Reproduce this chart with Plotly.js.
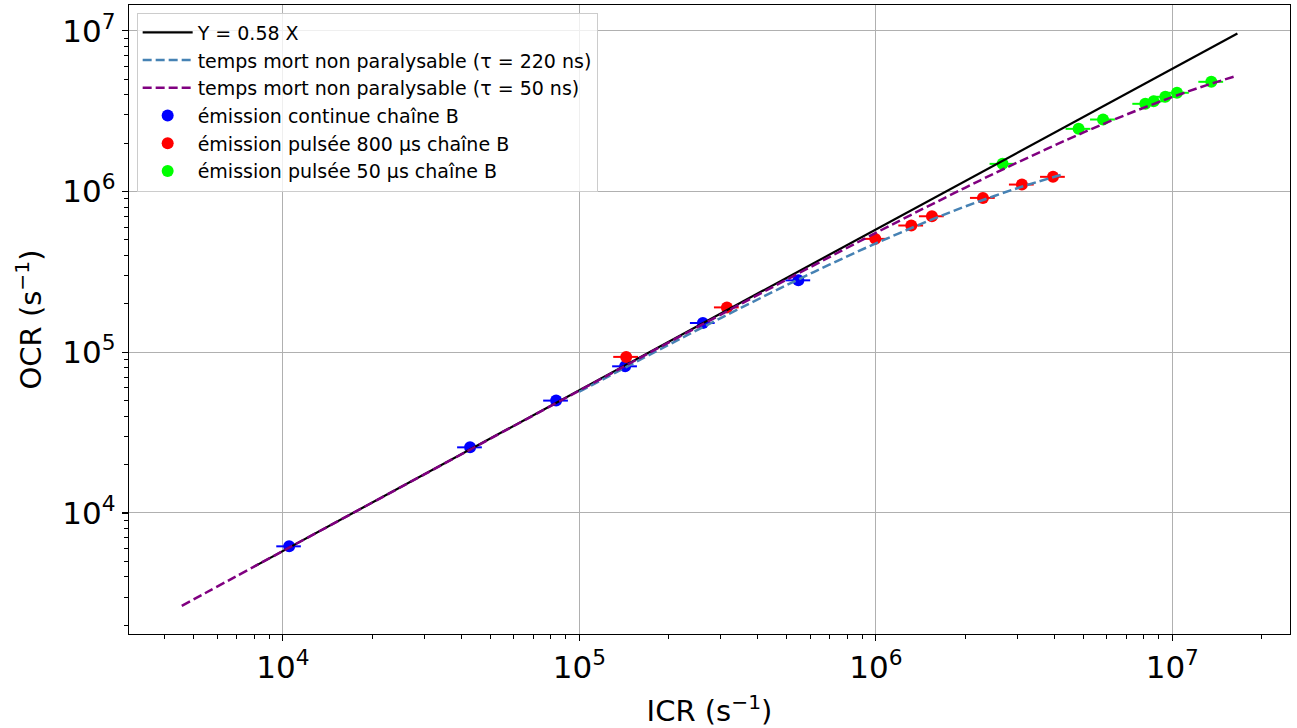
<!DOCTYPE html>
<html>
<head>
<meta charset="utf-8">
<script src="https://cdn.plot.ly/plotly-3.0.1.min.js"></script>
<style>html,body{margin:0;padding:0;background:#fff;}#chart{width:1297px;height:728px;}</style>
</head>
<body>
<div id="chart"></div>
<script>
// ---- Data ----
// Reference line Y = 0.58 X (end points)
const refLineICR = [8.0e3, 1.658e7];
const refLineOCR = [4.64e3, 9.616e6];

// Non-paralysable dead time, tau = 220 ns
const tau220ICR = [1.0e5, 2.0e5, 3.0e5, 5.0e5, 7.0e5, 1.0e6, 1.5e6, 2.0e6, 3.0e6, 4.29e6];
const tau220OCR = [5.675e4, 1.111e5, 1.632e5, 2.613e5, 3.518e5, 4.754e5, 6.541e5, 8.056e5, 1.048e6, 1.280e6];

// Non-paralysable dead time, tau = 50 ns
const tau50ICR = [4.56e3, 1.0e4, 3.0e4, 1.0e5, 3.0e5, 1.0e6, 2.0e6, 3.0e6, 5.0e6, 7.0e6, 1.0e7, 1.3e7, 1.658e7];
const tau50OCR = [2.644e3, 5.797e3, 1.737e4, 5.771e4, 1.714e5, 5.524e5, 1.0545e6, 1.513e6, 2.32e6, 3.007e6, 3.867e6, 4.570e6, 5.258e6];

// émission continue chaîne B
const contICR = [1.05e4, 4.28e4, 8.35e4, 1.427e5, 2.61e5, 5.48e5];
const contOCR = [6.2e3, 2.56e4, 5.0e4, 8.17e4, 1.52e5, 2.80e5];
const contErr = [1.0e3, 4.1e3, 8.0e3, 1.37e4, 2.5e4, 5.26e4];

// émission pulsée 800 µs chaîne B
const p800ICR = [1.439e5, 3.146e5, 9.96e5, 1.317e6, 1.546e6, 2.298e6, 3.11e6, 3.96e6];
const p800OCR = [9.35e4, 1.90e5, 5.07e5, 6.14e5, 7.01e5, 9.12e5, 1.104e6, 1.233e6];
const p800Err = [1.38e4, 3.02e4, 9.56e4, 1.264e5, 1.484e5, 2.206e5, 2.986e5, 3.80e5];

// émission pulsée 50 µs chaîne B
const p50ICR = [2.676e6, 4.83e6, 5.84e6, 8.11e6, 8.65e6, 9.47e6, 1.037e7, 1.354e7];
const p50OCR = [1.485e6, 2.452e6, 2.803e6, 3.51e6, 3.64e6, 3.88e6, 4.11e6, 4.81e6];
const p50Err = [2.57e5, 4.64e5, 5.61e5, 7.79e5, 8.30e5, 9.09e5, 9.96e5, 1.30e6];

// Tick labels
const majorTicks = [1e4, 1e5, 1e6, 1e7];
const majorTickText = ['10<sup>4</sup>', '10<sup>5</sup>', '10<sup>6</sup>', '10<sup>7</sup>'];
const minorTicks = [
  2e3,3e3,4e3,5e3,6e3,7e3,8e3,9e3,
  2e4,3e4,4e4,5e4,6e4,7e4,8e4,9e4,
  2e5,3e5,4e5,5e5,6e5,7e5,8e5,9e5,
  2e6,3e6,4e6,5e6,6e6,7e6,8e6,9e6,
  2e7,3e7
];

// ---- Traces ----
function pts(name, x, y, err, color, rank) {
  return {
    type: 'scatter', mode: 'markers', name: name, x: x, y: y,
    marker: {color: color, size: 12},
    error_x: {type: 'data', array: err, visible: true, color: color, thickness: 2, width: 0},
    legendrank: rank
  };
}
const traces = [
  pts('émission continue chaîne B', contICR, contOCR, contErr, '#0000ff', 4),
  pts('émission pulsée 800 µs chaîne B', p800ICR, p800OCR, p800Err, '#ff0000', 5),
  pts('émission pulsée 50 µs chaîne B', p50ICR, p50OCR, p50Err, '#00ff00', 6),
  {type: 'scatter', mode: 'lines', name: 'Y = 0.58 X', x: refLineICR, y: refLineOCR,
   line: {color: '#000000', width: 2.2}, legendrank: 1},
  {type: 'scatter', mode: 'lines', name: 'temps mort non paralysable (τ = 220 ns)', x: tau220ICR, y: tau220OCR,
   line: {color: '#4682b4', width: 2.5, dash: '9px,4px', shape: 'spline'}, legendrank: 2},
  {type: 'scatter', mode: 'lines', name: 'temps mort non paralysable (τ = 50 ns)', x: tau50ICR, y: tau50OCR,
   line: {color: '#800080', width: 2.5, dash: '9px,4px', shape: 'spline'}, legendrank: 3}
];

const axisCommon = {
  type: 'log',
  showgrid: true, gridcolor: '#b0b0b0', gridwidth: 1,
  showline: true, linecolor: '#000000', linewidth: 1.2, mirror: true,
  ticks: 'outside', ticklen: 6, tickwidth: 1.2, tickcolor: '#000000',
  tickmode: 'array', tickvals: majorTicks, ticktext: majorTickText,
  tickfont: {family: 'DejaVu Sans', size: 31, color: '#000000'},
  zeroline: false,
  minor: {tickmode: 'array', tickvals: minorTicks, ticks: 'outside', ticklen: 3.5, tickwidth: 1, tickcolor: '#000000', showgrid: false}
};

const layout = {
  width: 1297, height: 728,
  margin: {l: 129.3, r: 7.3, t: 5.3, b: 93.7},
  paper_bgcolor: '#ffffff', plot_bgcolor: '#ffffff',
  font: {family: 'DejaVu Sans', color: '#000000'},
  xaxis: Object.assign({}, axisCommon, {
    range: [3.481, 7.397],
    title: {text: 'ICR (s<sup>−1</sup>)', font: {family: 'DejaVu Sans', size: 29, color: '#000000'}, standoff: 16}
  }),
  yaxis: Object.assign({}, axisCommon, {
    range: [3.247, 7.160],
    title: {text: 'OCR (s<sup>−1</sup>)', font: {family: 'DejaVu Sans', size: 29, color: '#000000'}, standoff: 12}
  }),
  showlegend: true,
  legend: {
    x: 0.0066, y: 0.988, xanchor: 'left', yanchor: 'top',
    bgcolor: 'rgba(255,255,255,0.8)', bordercolor: '#cccccc', borderwidth: 1,
    font: {family: 'DejaVu Sans', size: 19, color: '#000000'},
    traceorder: 'normal', itemwidth: 50
  }
};

Plotly.newPlot('chart', traces, layout, {displayModeBar: false, staticPlot: true});
</script>
</body>
</html>
